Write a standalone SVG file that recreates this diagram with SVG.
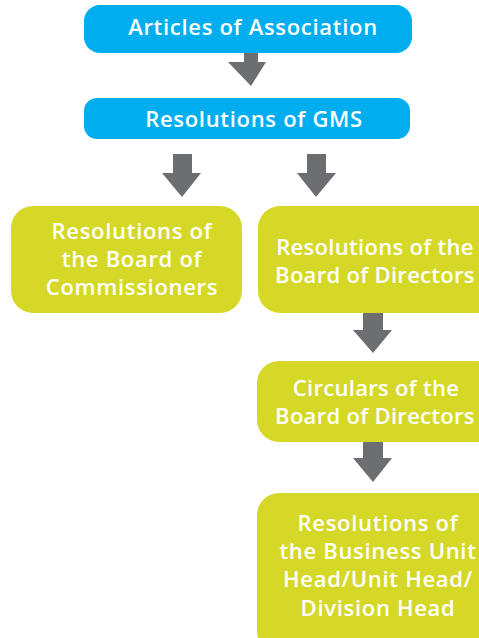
<svg xmlns="http://www.w3.org/2000/svg" width="479" height="638" viewBox="0 0 479 638">
<style>
.blue{fill:#00AEEF}
.green{fill:#D6D827}
.arr{fill:#6D6E71}
text{font-family:"Open Sans","Liberation Sans",sans-serif;font-weight:600;fill:#fff;text-anchor:middle;font-size:22px;letter-spacing:0.7px}
text.tight{letter-spacing:0.3px}
</style>
<rect width="479" height="638" fill="#fff"/>
<g id="connectors">
<polygon class="arr" points="244,53 258,53 258,62 266,62 251,86 228,62 244,62"/>
<polygon class="arr" points="173,154 192,154 192,173 201,173 182,197 162,173 173,173"/>
<polygon class="arr" points="307,154 326,154 326,173 336,173 316,197 297,173 307,173"/>
<polygon class="arr" points="363,313 383,313 383,330 392,330 373,353 353,330 363,330"/>
<polygon class="arr" points="363,442 383,442 383,458 392,458 373,482 353,458 363,458"/>
</g>
<g id="articles">
<rect class="blue" x="84" y="5" width="328" height="48" rx="16"/>
<text x="253" y="35">Articles of Association</text>
</g>
<g id="gms">
<rect class="blue" x="84" y="98" width="326" height="41" rx="13"/>
<text x="254" y="127">Resolutions of GMS</text>
</g>
<g id="commissioners">
<rect class="green" x="11" y="206" width="231" height="107" rx="22"/>
<text x="132" y="239">Resolutions of</text>
<text x="132" y="267">the Board of</text>
<text x="132" y="295">Commissioners</text>
</g>
<g id="directors">
<rect class="green" x="258" y="206" width="240" height="107" rx="22"/>
<text class="tight" x="375" y="255">Resolutions of the</text>
<text class="tight" x="375" y="283">Board of Directors</text>
</g>
<g id="circulars">
<rect class="green" x="257" y="361" width="240" height="81" rx="22"/>
<text class="tight" x="376" y="396">Circulars of the</text>
<text class="tight" x="375" y="424">Board of Directors</text>
</g>
<g id="unithead">
<rect class="green" x="257" y="493" width="240" height="160" rx="22"/>
<text x="378" y="531">Resolutions of</text>
<text x="378" y="559">the Business Unit</text>
<text x="378" y="587">Head/Unit Head/</text>
<text x="378" y="616">Division Head</text>
</g>
</svg>
